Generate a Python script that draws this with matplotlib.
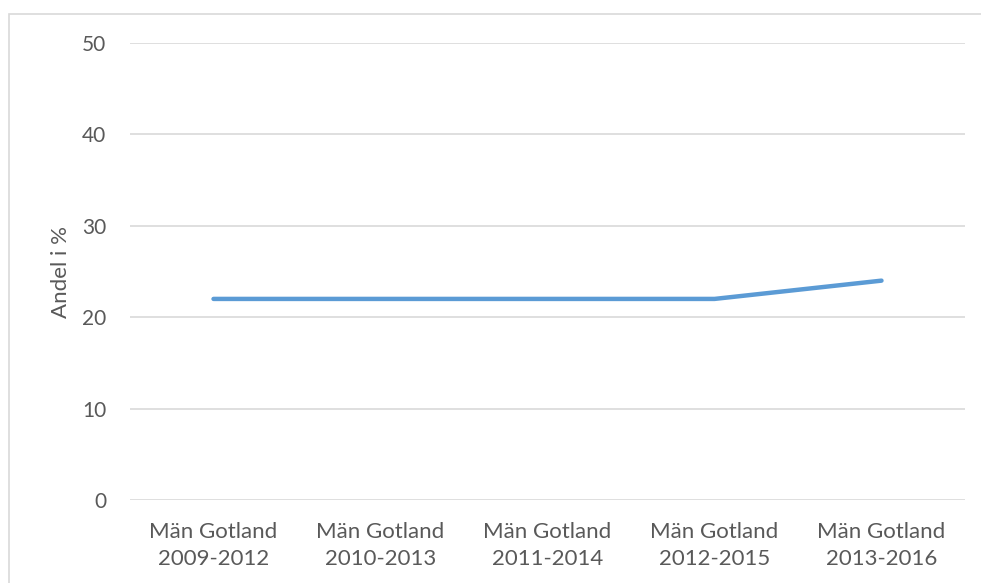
import matplotlib.pyplot as plt
from matplotlib.patches import Rectangle

# data
kategorier = ["Män Gotland\n2009-2012", "Män Gotland\n2010-2013", "Män Gotland\n2011-2014",
              "Män Gotland\n2012-2015", "Män Gotland\n2013-2016"]
andel = [22, 22, 22, 22, 24]
yticks = [0, 10, 20, 30, 40, 50]

W, H = 981, 583
plt.rcParams['font.family'] = ['Lato', 'DejaVu Sans']
fig = plt.figure(figsize=(W / 100, H / 100), dpi=100)
fig.patch.set_facecolor('white')

# outer chart border (runs off the image on right and bottom)
fig.patches.append(Rectangle((9 / W, -0.5), 2, 1.5 - 14 / H, transform=fig.transFigure,
                             fill=False, edgecolor='#D9D9D9', linewidth=1.2))

ax = fig.add_axes([130 / W, 83 / H, (965 - 130) / W, (500 - 43) / H])
x = list(range(len(kategorier)))
ax.plot(x, andel, color='#5B9BD5', linewidth=3.2, solid_capstyle='round', solid_joinstyle='round', zorder=3)

ax.set_xlim(-0.5, len(kategorier) - 0.5)
ax.set_ylim(0, 50)
ax.set_yticks(yticks)
ax.set_xticks(x)
ax.set_xticklabels(kategorier, fontsize=16, color='#595959', linespacing=1.4)
ax.tick_params(axis='y', labelsize=15, labelcolor='#595959', length=0, pad=17)
ax.tick_params(axis='x', length=0, pad=16)
ax.grid(axis='y', color='#D9D9D9', linewidth=1.2)
ax.set_axisbelow(True)
for s in ax.spines.values():
    s.set_visible(False)

ax.set_ylabel('Andel i %', fontsize=16, color='#595959')
ax.yaxis.set_label_coords(-0.071, 0.5)

fig.savefig('out.png', dpi=100)
